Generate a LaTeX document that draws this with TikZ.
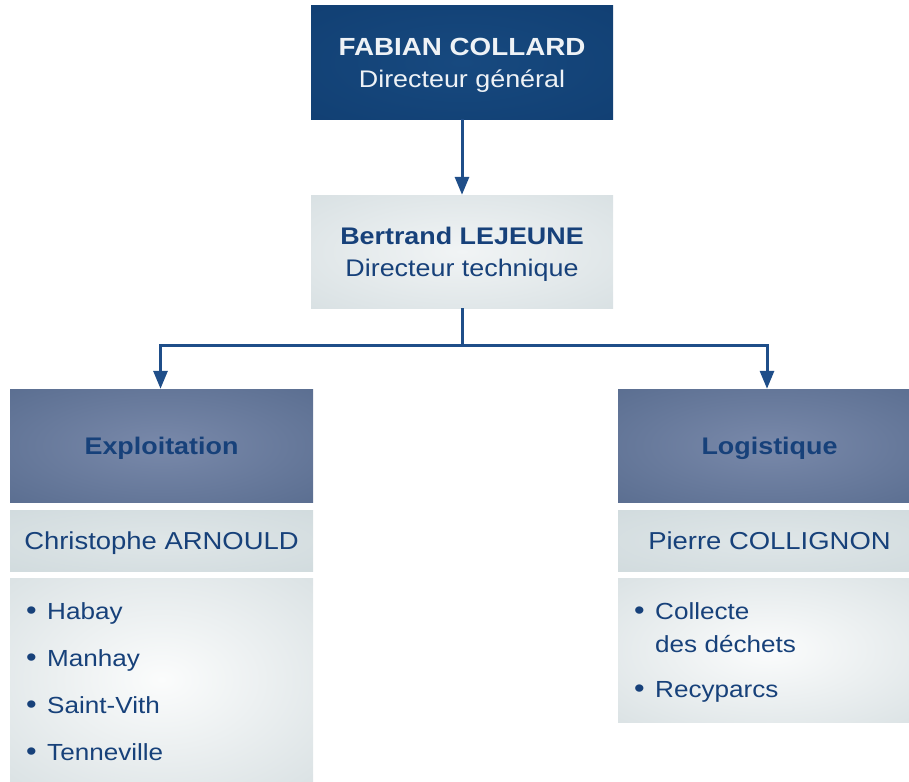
\documentclass[tikz,border=0pt]{standalone}
\usepackage{fontspec}
\setmainfont{Liberation Sans}[FakeStretch=1.12]
\usetikzlibrary{arrows.meta}
\definecolor{navyin}{HTML}{17497F}
\definecolor{navyout}{HTML}{0F3C6F}
\definecolor{greyin}{HTML}{F1F4F5}
\definecolor{greyout}{HTML}{CFD9DC}
\definecolor{slatein}{HTML}{7989AA}
\definecolor{slateout}{HTML}{4F6487}
\definecolor{namein}{HTML}{DFE6E8}
\definecolor{nameout}{HTML}{CCD7DA}
\definecolor{listin}{HTML}{FBFCFC}
\definecolor{listout}{HTML}{CED8DB}
\definecolor{txt}{HTML}{17417A}
\definecolor{conn}{HTML}{1F4E89}
\definecolor{whitetxt}{HTML}{EEF2F6}
\pgfdeclareradialshading{navyshade}{\pgfpoint{0bp}{0bp}}{color(0bp)=(navyin); color(50bp)=(navyout)}
\pgfdeclareradialshading{greyshade}{\pgfpoint{0bp}{0bp}}{color(0bp)=(greyin); color(50bp)=(greyout)}
\pgfdeclareradialshading{slateshade}{\pgfpoint{0bp}{0bp}}{color(0bp)=(slatein); color(50bp)=(slateout)}
\pgfdeclareradialshading{nameshade}{\pgfpoint{0bp}{0bp}}{color(0bp)=(namein); color(50bp)=(nameout)}
\pgfdeclareradialshading{listshade}{\pgfpoint{0bp}{0bp}}{color(0bp)=(listin); color(50bp)=(listout)}
\tikzset{
  box/.style={rectangle, inner sep=0pt, minimum width=303pt, text=txt, align=center,
    font=\fontsize{24}{32}\selectfont},
  bigbox/.style={box, minimum height=113pt},
  namebox/.style={box, minimum height=61pt, shading=nameshade, text height=18pt, text depth=0pt,
    font=\fontsize{24.5}{32}\selectfont},
  listbox/.style={rectangle, inner sep=0pt, minimum width=303pt, shading=listshade},
  item/.style={anchor=base west, inner sep=0pt, text=txt, font=\fontsize{23.3}{33}\selectfont},
  link/.style={draw=conn, line width=3pt},
  tip/.style={-{Triangle[width=14pt,length=18pt]}}
}
\newcommand{\bul}{\makebox[21pt][l]{\fontsize{27}{27}\selectfont•}}
\begin{document}
\begin{tikzpicture}[x=1pt,y=-1pt]
\useasboundingbox (0,0) rectangle (909,781);
\clip (0,0) rectangle (909,781);
% top levels
\node[bigbox, shading=navyshade, text=whitetxt, minimum width=302pt] (ceo) at (462,62.5)
  {\rule{0pt}{23pt}{\fontsize{24.8}{32}\selectfont\textbf{FABIAN COLLARD}}\\Directeur général};
\node[bigbox, shading=greyshade, minimum width=302pt] (tech) at (462,251.5)
  {\rule{0pt}{23pt}\textbf{Bertrand LEJEUNE}\\Directeur technique};
% left branch
\node[bigbox, shading=slateshade, text height=18pt, text depth=0pt] (expl) at (161.5,445.5) {\textbf{Exploitation}};
\node[namebox] (chris) at (161.5,540.5) {Christophe ARNOULD};
\node[listbox, minimum height=203pt] (listL) at (161.5,679.5) {};
\node[item] (habay) at (26,619) {\bul Habay};
\node[item] (manhay) at (26,666) {\bul Manhay};
\node[item] (stvith) at (26,713) {\bul Saint-Vith};
\node[item] (tenne) at (26,760) {\bul Tenneville};
% right branch
\node[bigbox, shading=slateshade, text height=18pt, text depth=0pt] (logi) at (769.5,445.5) {\textbf{Logistique}};
\node[namebox] (pierre) at (769.5,540.5) {Pierre COLLIGNON};
\node[listbox, minimum height=144pt] (listR) at (769.5,650) {};
\node[item] (collecte) at (634,619) {\bul\begin{tabular}[t]{@{}l@{}}Collecte\\des déchets\end{tabular}};
\node[item] (recyp) at (634,697) {\bul Recyparcs};
% connectors
\coordinate (bus) at (462,345.5);
\coordinate (busL) at (160.5,345.5);
\coordinate (busR) at (767,345.5);
\draw[link, tip] (ceo.south) -- (tech.north);
\draw[link] (tech.south) -- (bus);
\draw[link, line cap=rect] (busL) -- (busR);
\draw[link, tip] (busL) -- (busL |- expl.north);
\draw[link, tip] (busR) -- (busR |- logi.north);
\end{tikzpicture}
\end{document}
